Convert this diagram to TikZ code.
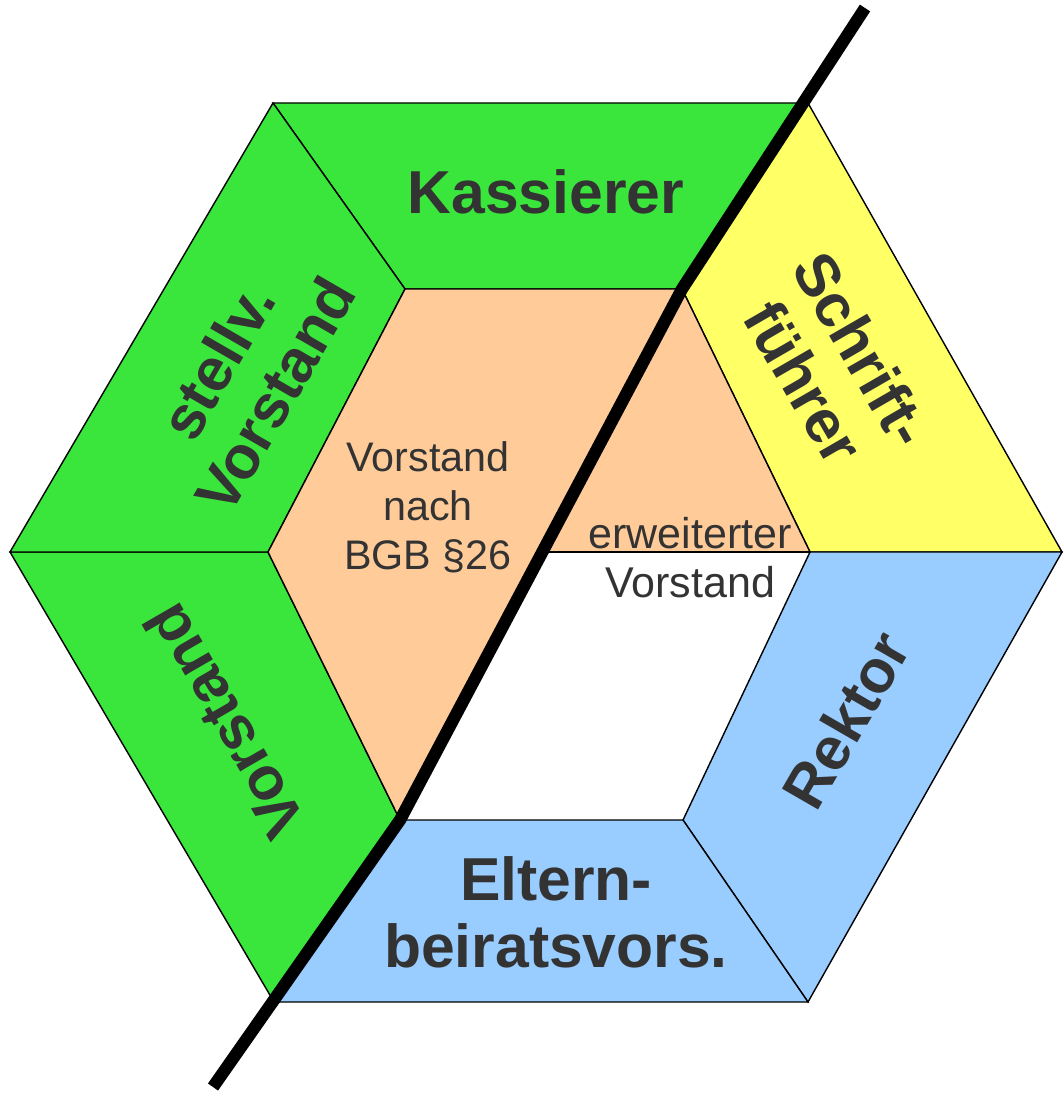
\documentclass[tikz,border=0pt]{standalone}
\usepackage{fontspec}
\setmainfont{Liberation Sans}
\definecolor{ringgreen}{RGB}{58,230,60}
\definecolor{ringyellow}{RGB}{255,255,102}
\definecolor{ringblue}{RGB}{153,204,255}
\definecolor{corepeach}{RGB}{255,204,153}
\definecolor{textgray}{RGB}{51,51,51}
\begin{document}
\begin{tikzpicture}[x=0.02cm, y=-0.02cm]
		\tikzset{seg/.style={draw=black, line width=0.8pt, line join=miter},
			lbl/.style={text=textgray, font=\fontsize{34.5}{38}\selectfont\bfseries, align=center},
			core/.style={text=textgray, font=\fontsize{23.5}{28}\selectfont, align=center}};

		\useasboundingbox (0, 0) rectangle (1064, 1095);

		\coordinate (otl) at (273, 103);
		\coordinate (otr) at (808, 103);
		\coordinate (or) at (1062, 552);
		\coordinate (obr) at (808, 1002);
		\coordinate (obl) at (274, 1002);
		\coordinate (ol) at (10, 552);
		\coordinate (itl) at (405, 289);
		\coordinate (itr) at (682, 289);
		\coordinate (ir) at (810, 552);
		\coordinate (ibr) at (683, 820);
		\coordinate (ibl) at (400, 820);
		\coordinate (il) at (268, 552);
		\coordinate (m) at (542, 552);
		\coordinate (lt) at (865, 8);
		\coordinate (lb) at (213, 1087);

		\filldraw[seg, fill=ringgreen] (otl) -- (otr) -- (itr) -- (itl) -- cycle;
		\filldraw[seg, fill=ringyellow] (otr) -- (or) -- (ir) -- (itr) -- cycle;
		\filldraw[seg, fill=ringblue] (or) -- (obr) -- (ibr) -- (ir) -- cycle;
		\filldraw[seg, fill=ringblue] (obr) -- (obl) -- (ibl) -- (ibr) -- cycle;
		\filldraw[seg, fill=ringgreen] (obl) -- (ol) -- (il) -- (ibl) -- cycle;
		\filldraw[seg, fill=ringgreen] (ol) -- (otl) -- (itl) -- (il) -- cycle;
		\filldraw[seg, fill=corepeach] (itl) -- (itr) -- (ibl) -- (il) -- cycle;
		\filldraw[seg, fill=corepeach] (itr) -- (ir) -- (m) -- cycle;
		\draw[seg] (m) -- (ir);

		\draw[line width=7pt, line join=miter] (lt) -- (itr) -- (ibl) -- (lb);

		\node[lbl] (kassierer) at (546, 192) {Kassierer};
		\node[lbl, rotate=60] (stellv) at (246, 378) {stellv.\\Vorstand};
		\node[lbl, rotate=-60] (schrift) at (833, 366) {Schrift-\\führer};
		\node[lbl, rotate=60] (rektor) at (846, 720) {Rektor};
		\node[lbl, rotate=120] (vorstand) at (224, 722) {Vorstand};
		\node[lbl] (eltern) at (556, 912) {Eltern-\\beiratsvors.};
		\node[core] (bgb) at (428, 507) {Vorstand\\nach\\BGB §26};
		\node[core, font=\fontsize{24.5}{28}\selectfont] (erweitert) at (690, 558) {erweiterter\\Vorstand};
\end{tikzpicture}
\end{document}
